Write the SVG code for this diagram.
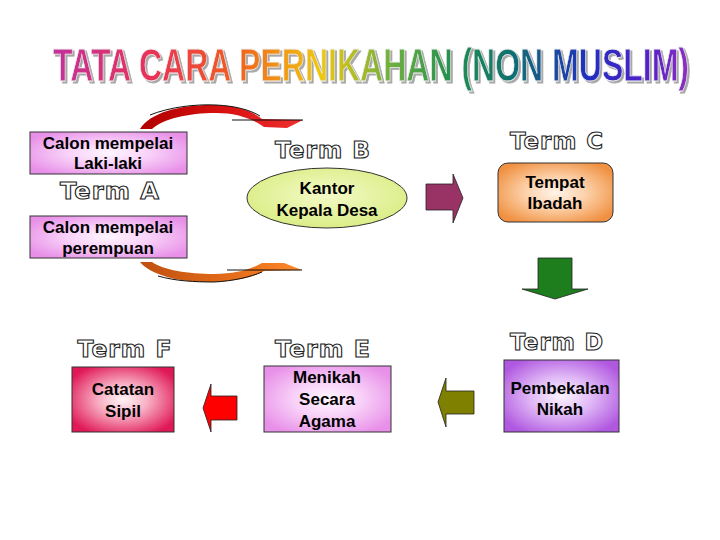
<svg xmlns="http://www.w3.org/2000/svg" width="720" height="540" viewBox="0 0 720 540">
<defs>
<style>
.lbl{font-family:"Liberation Sans",Arial,sans-serif;font-weight:bold;font-size:17px;fill:#000;text-anchor:middle}
.term{font-family:"DejaVu Sans","Liberation Sans",sans-serif;font-weight:bold;font-size:23px;fill:#fff;stroke:#222;stroke-width:1.1;text-anchor:middle;letter-spacing:1px}
.box{stroke:#333;stroke-width:1}
.arr{stroke:#222;stroke-width:0.8}
</style>
<filter id="shadow" filterUnits="userSpaceOnUse" x="-400" y="-60" width="800" height="90">
<feOffset in="SourceAlpha" dx="2" dy="1.4" result="off"/>
<feFlood flood-color="#A8A8A8"/>
<feComposite in2="off" operator="in" result="sh"/>
<feMerge><feMergeNode in="sh"/><feMergeNode in="SourceGraphic"/></feMerge>
</filter>
<linearGradient id="rainbow" x1="-319" y1="0" x2="319" y2="0" gradientUnits="userSpaceOnUse">
<stop offset="0" stop-color="#C0309E"/>
<stop offset="0.15" stop-color="#E8305A"/>
<stop offset="0.29" stop-color="#F06020"/>
<stop offset="0.42" stop-color="#F0C810"/>
<stop offset="0.53" stop-color="#70B040"/>
<stop offset="0.63" stop-color="#209050"/>
<stop offset="0.72" stop-color="#107070"/>
<stop offset="0.84" stop-color="#2030C0"/>
<stop offset="0.93" stop-color="#5020C8"/>
<stop offset="1" stop-color="#9030C0"/>
</linearGradient>
<radialGradient id="gPink" cx="0.5" cy="0.5" r="0.6">
<stop offset="0" stop-color="#FFF6FF"/>
<stop offset="0.45" stop-color="#F8D0F8"/>
<stop offset="1" stop-color="#E890E8"/>
</radialGradient>
<radialGradient id="gCrimson" cx="0.5" cy="0.5" r="0.6">
<stop offset="0" stop-color="#FFF4F6"/>
<stop offset="0.4" stop-color="#F8B0C4"/>
<stop offset="1" stop-color="#E01858"/>
</radialGradient>
<radialGradient id="gPurple" cx="0.5" cy="0.5" r="0.6">
<stop offset="0" stop-color="#FBF4FF"/>
<stop offset="0.45" stop-color="#E0B8F6"/>
<stop offset="1" stop-color="#B058E0"/>
</radialGradient>
<radialGradient id="gOrange" cx="0.5" cy="0.5" r="0.6">
<stop offset="0" stop-color="#FFF4EA"/>
<stop offset="0.45" stop-color="#FCD0A8"/>
<stop offset="1" stop-color="#F09040"/>
</radialGradient>
<radialGradient id="gLime" cx="0.5" cy="0.45" r="0.6">
<stop offset="0" stop-color="#F4FAC8"/>
<stop offset="1" stop-color="#D8EC80"/>
</radialGradient>
<linearGradient id="gRedArc" x1="0" y1="0" x2="1" y2="0">
<stop offset="0" stop-color="#B00000"/>
<stop offset="0.5" stop-color="#D81010"/>
<stop offset="1" stop-color="#F03030"/>
</linearGradient>
<linearGradient id="gOrgArc" x1="0" y1="0" x2="1" y2="0">
<stop offset="0" stop-color="#C05010"/>
<stop offset="0.5" stop-color="#E06818"/>
<stop offset="1" stop-color="#FF8828"/>
</linearGradient>
</defs>

<rect width="720" height="540" fill="#fff"/>

<g id="title" transform="translate(371,81) scale(1,1.55)">
<text x="0" y="0" filter="url(#shadow)" textLength="636" lengthAdjust="spacingAndGlyphs" text-anchor="middle" font-family="'Liberation Sans',Arial,sans-serif" font-weight="bold" font-size="30" fill="url(#rainbow)" stroke="#F0F0F0" stroke-width="0.5">TATA CARA PERNIKAHAN (NON MUSLIM)</text>
</g>

<g id="connectors">
<g id="arc-top">
<path d="M140,129 C150,112 183,104 216,105 C238,106 252,111 262,119 L303,120 L287,128 L264,127 C251,118 236,113 216,113 C188,113 163,119 152,129 Z" fill="url(#gRedArc)"/>
<path d="M150,115 C170,107 195,104 216,105 C236,106 250,110 260,116" fill="none" stroke="#111" stroke-width="1"/>
<line x1="232" y1="120" x2="303" y2="120" stroke="#111" stroke-width="1"/>
</g>
<g id="arc-bottom">
<path d="M140,262 C152,276 182,283 214,282 C238,281 254,277 264,271 L302,270 L284,263 L262,263 C250,270 235,274 214,274 C188,274 163,270 152,262 Z" fill="url(#gOrgArc)"/>
<path d="M158,276 C175,281 195,282 214,282 C234,281 250,277 262,272" fill="none" stroke="#111" stroke-width="1"/>
<line x1="227" y1="270" x2="302" y2="270" stroke="#111" stroke-width="1"/>
</g>
<polygon id="arrow-b-c" class="arr" points="426,184 453,184 453,174 463,198 453,223 453,210 426,210" fill="#993366"/>
<polygon id="arrow-c-d" class="arr" points="538,258 572,258 572,289 588,289 555,299 522,289 538,289" fill="#1E7E1E"/>
<polygon id="arrow-d-e" class="arr" points="474,391 446,391 446,378 438,402 446,427 446,414 474,414" fill="#808000"/>
<polygon id="arrow-e-f" class="arr" points="237,396 211,396 211,384 203,408 211,432 211,420 237,420" fill="#FF0000"/>
</g>

<g id="node-a1">
<rect class="box" x="30" y="132" width="157" height="42" fill="url(#gPink)"/>
<text class="lbl" x="108" y="149">Calon mempelai</text>
<text class="lbl" x="108" y="169">Laki-laki</text>
</g>
<g id="node-a2">
<rect class="box" x="30" y="216" width="157" height="42" fill="url(#gPink)"/>
<text class="lbl" x="108" y="233">Calon mempelai</text>
<text class="lbl" x="108" y="254">perempuan</text>
</g>
<g id="node-b">
<ellipse class="box" cx="327" cy="198" rx="80" ry="30" fill="url(#gLime)" stroke="#555"/>
<text class="lbl" x="327" y="194">Kantor</text>
<text class="lbl" x="327" y="216">Kepala Desa</text>
</g>
<g id="node-c">
<rect class="box" x="498" y="163" width="115" height="59" rx="10" fill="url(#gOrange)"/>
<text class="lbl" x="555" y="188">Tempat</text>
<text class="lbl" x="555" y="209">Ibadah</text>
</g>
<g id="node-d">
<rect class="box" x="504" y="360" width="115" height="72" fill="url(#gPurple)"/>
<text class="lbl" x="560" y="394">Pembekalan</text>
<text class="lbl" x="560" y="415">Nikah</text>
</g>
<g id="node-e">
<rect class="box" x="264" y="366" width="127" height="66" fill="url(#gPink)"/>
<text class="lbl" x="327" y="383">Menikah</text>
<text class="lbl" x="327" y="405">Secara</text>
<text class="lbl" x="327" y="427">Agama</text>
</g>
<g id="node-f">
<rect class="box" x="72" y="367" width="102" height="65" fill="url(#gCrimson)"/>
<text class="lbl" x="123" y="395">Catatan</text>
<text class="lbl" x="123" y="417">Sipil</text>
</g>

<g id="terms">
<text class="term" x="110" y="199" textLength="100" lengthAdjust="spacingAndGlyphs">Term A</text>
<text class="term" x="323" y="158" textLength="96" lengthAdjust="spacingAndGlyphs">Term B</text>
<text class="term" x="557" y="149" textLength="94" lengthAdjust="spacingAndGlyphs">Term C</text>
<text class="term" x="557" y="350" textLength="94" lengthAdjust="spacingAndGlyphs">Term D</text>
<text class="term" x="323" y="357" textLength="96" lengthAdjust="spacingAndGlyphs">Term E</text>
<text class="term" x="125" y="357" textLength="95" lengthAdjust="spacingAndGlyphs">Term F</text>
</g>
</svg>
